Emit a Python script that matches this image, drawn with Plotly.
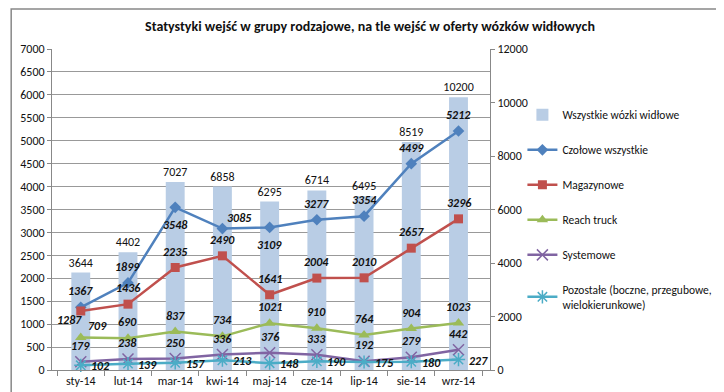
import plotly.graph_objects as go

months = ["sty-14", "lut-14", "mar-14", "kwi-14", "maj-14", "cze-14", "lip-14", "sie-14", "wrz-14"]
wszystkie = [3644, 4402, 7027, 6858, 6295, 6714, 6495, 8519, 10200]
czolowe = [1367, 1899, 3548, 3085, 3109, 3277, 3354, 4499, 5212]
magazynowe = [1287, 1436, 2235, 2490, 1641, 2004, 2010, 2657, 3296]
reach = [709, 690, 837, 734, 1021, 910, 764, 904, 1023]
systemowe = [179, 238, 250, 336, 376, 333, 192, 279, 442]
pozostale = [102, 139, 157, 213, 148, 190, 175, 180, 227]

FONT = "Carlito, Liberation Sans, Arial, sans-serif"
TXT = "#111"

fig = go.Figure()
fig.add_trace(go.Bar(
    x=months, y=wszystkie, name="Wszystkie wózki widłowe", yaxis="y",
    marker=dict(color="#B9CDE5", line=dict(width=0)),
    text=wszystkie, textposition="outside", cliponaxis=False, constraintext="none",
    textfont=dict(family=FONT, size=12, color=TXT),
    legendgroup="a",
))

SHIFTS = {"t": (0, 16), "b": (0, -18), "tr": (17, 11), "bl": (-11, -9), "r": (20, -1)}
annotations = []

def line(name, ys, color, symbol, size, pos, grp, mlw=0):
    fig.add_trace(go.Scatter(
        x=months, y=ys, name=name, mode="lines+markers", yaxis="y2",
        line=dict(color=color, width=2.5),
        marker=dict(symbol=symbol, size=size, color=color, line=dict(color=color, width=mlw)),
        cliponaxis=False, legendgroup=grp,
    ))
    for m, v, p in zip(months, ys, pos):
        dx, dy = SHIFTS[p]
        annotations.append(dict(
            x=m, y=v, xref="x", yref="y2", text=f"<b><i>{v}</i></b>", showarrow=False,
            xshift=dx, yshift=dy, font=dict(family=FONT, size=12, color=TXT),
        ))

line("Czołowe wszystkie", czolowe, "#4F81BD", "diamond", 9,
     ["t", "t", "b", "tr", "b", "t", "t", "t", "t"], "b")
line("Magazynowe", magazynowe, "#C0504D", "square", 9,
     ["bl"] + ["t"] * 8, "c")
line("Reach truck", reach, "#9BBB59", "triangle-up", 10,
     ["tr"] + ["t"] * 8, "d")
line("Systemowe", systemowe, "#8064A2", "x-thin-open", 11,
     ["t"] * 9, "e", mlw=1.5)
line("Pozostałe (boczne, przegubowe,<br>wielokierunkowe)", pozostale, "#4BACC6", "asterisk-open", 11,
     ["r"] * 9, "f", mlw=1.5)

pw, ph = 724 - 42 - 242, 392 - 41 - 30

fig.update_layout(
    width=724, height=392,
    margin=dict(l=42, r=242, t=41, b=30),
    paper_bgcolor="white", plot_bgcolor="white",
    title=dict(text="<b>Statystyki wejść w grupy rodzajowe, na tle wejść w oferty wózków widłowych</b>",
               x=362 / 724, xanchor="center", y=1 - 18 / 392, yanchor="middle",
               font=dict(family=FONT, size=14, color=TXT)),
    bargap=0.6,
    showlegend=True,
    legend=dict(x=1.074, xanchor="left", y=0.84, yanchor="top",
                font=dict(family=FONT, size=11.5, color=TXT),
                tracegroupgap=16, itemwidth=30, bgcolor="rgba(0,0,0,0)"),
    xaxis=dict(showgrid=False, showline=True, linecolor="#888", linewidth=1,
               ticks="outside", tickson="boundaries", ticklen=5, tickcolor="#888",
               tickfont=dict(family=FONT, size=12, color=TXT)),
    yaxis=dict(range=[0, 12000], dtick=2000, side="right", showgrid=False,
               showline=True, linecolor="#888", ticks="outside", ticklen=4, tickcolor="#888",
               tickformat="d", tickfont=dict(family=FONT, size=12, color=TXT), zeroline=False,
               minor=dict(tickmode="array", tickvals=[i * 12000 / 14 for i in range(1, 15)],
                          showgrid=True, gridcolor="#999", gridwidth=1, ticks="")),
    yaxis2=dict(range=[0, 7000], dtick=500, overlaying="y", side="left", showgrid=False,
                showline=True, linecolor="#888", ticks="outside", ticklen=4, tickcolor="#888",
                tickformat="d", tickfont=dict(family=FONT, size=12, color=TXT), zeroline=False),
    annotations=annotations,
)

fig.add_shape(type="rect", xref="paper", yref="paper",
              x0=(-42 + 1) / pw, x1=1 + (242 - 1) / pw, y0=(-30 + 1) / ph, y1=1 + (41 - 1) / ph,
              line=dict(color="#888", width=1.5), layer="below")

fig.write_html("out.html")
